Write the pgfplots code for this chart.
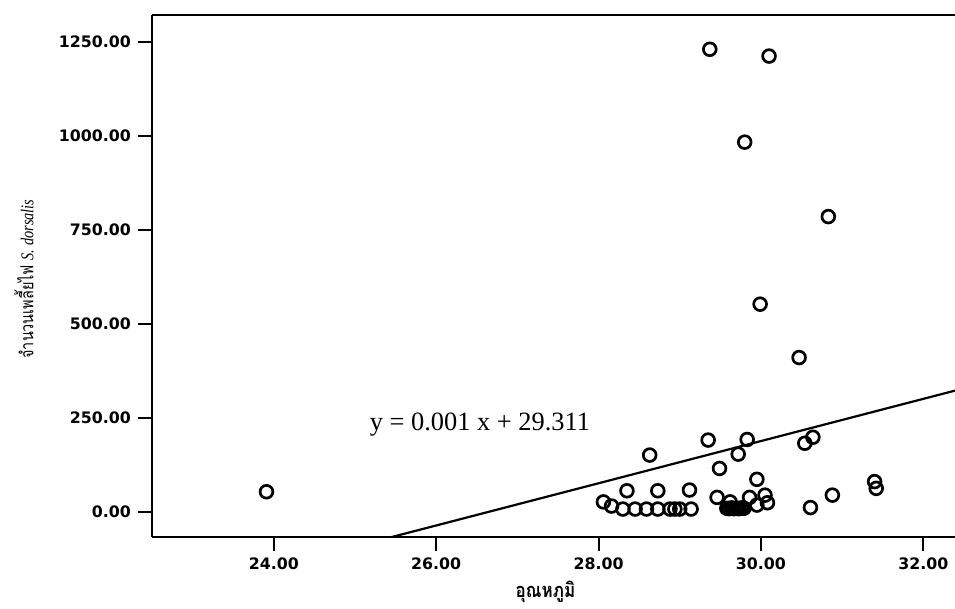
\documentclass[border=0pt]{standalone}
\usepackage{fontspec}
\setmainfont{Liberation Serif}
\newfontfamily\tickfont{DejaVu Sans}
\newfontfamily\thaifont[Script=Thai]{Loma}
\usepackage{graphicx}
\usepackage{pgfplots}
\pgfplotsset{compat=1.18}
\usetikzlibrary{calc}
\begin{document}
\begin{tikzpicture}
\begin{axis}[
  at={(0,0)}, anchor=south west,
  scale only axis, width=401.5pt, height=261.2pt,
  xmin=22.5, xmax=32.39, ymin=-67.6, ymax=1322,
  axis x line*=bottom, axis y line*=left,
  axis line style={line width=1pt},
  xtick={24,26,28,30,32}, ytick={0,250,500,750,1000,1250},
  tick align=outside, major tick length=7pt,
  tick style={line width=1pt, black},
  ticklabel style={font=\tickfont\bfseries\fontsize{7.9}{10}\selectfont},
  /pgf/number format/fixed,
  /pgf/number format/fixed zerofill,
  /pgf/number format/precision=2,
  /pgf/number format/1000 sep={},
  /pgf/number format/assume math mode=true,
  clip=false,
]
\addplot[black, line width=1.1pt] coordinates {(25.45,-67.6) (32.39,322)};
\addplot[only marks, mark=o, mark size=3.2pt, mark options={line width=1.35pt, black}] coordinates {
(23.91,53)
(28.06,26) (28.16,15)
(28.30,7) (28.45,7) (28.59,7) (28.73,7) (28.88,7) (28.94,7) (29.00,7) (29.14,7)
(28.35,55.6) (28.73,55.6) (29.12,57.5)
(28.63,150.6)
(29.35,190.5) (29.37,1230)
(29.46,38) (29.49,115) (29.62,26) (29.72,153)
(29.80,983) (29.83,192) (29.86,38) (29.95,86) (29.95,17.6)
(29.99,552) (30.05,44) (30.08,23.7) (30.10,1212)
(30.47,410) (30.54,182) (30.64,198) (30.61,11)
(30.83,785) (30.88,44) (31.40,80) (31.42,62)
(29.58,9) (29.61,8) (29.64,10) (29.67,8) (29.70,9) (29.73,8) (29.76,10) (29.79,9)
};
\draw[line width=1pt] (rel axis cs:0,1) -- (rel axis cs:1,1);
\node[font=\fontsize{13.2}{15}\selectfont] at (axis cs:26.54,232) {y = 0.001 x + 29.311};
\node[rotate=90, inner sep=0pt] at ($(axis cs:22.5,619)+(-64pt,0pt)$)
  {\scalebox{0.8}[1]{\fontsize{9}{11}\selectfont\thaifont จำนวนเพลี้ยไฟ \rmfamily\itshape S. dorsalis}};
\node[inner sep=0pt] at ($(rel axis cs:0.49,0)+(0pt,-27.5pt)$)
  {\scalebox{0.85}[1]{\fontsize{10}{12}\selectfont\thaifont\bfseries อุณหภูมิ}};
\end{axis}
\pgfresetboundingbox
\path[use as bounding box] (-76pt,-35.5pt) rectangle (401.5pt,268.55pt);
\end{tikzpicture}
\end{document}
